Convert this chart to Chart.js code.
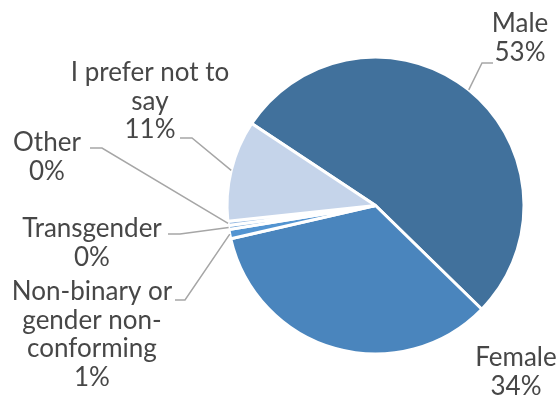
<!DOCTYPE html>
<html>
<head>
<meta charset="utf-8">
<script src="https://cdn.jsdelivr.net/npm/chart.js@4.4.1/dist/chart.umd.min.js"></script>
<style>
  html, body { margin: 0; padding: 0; background: #fff; }
  #wrap { width: 560px; height: 399px; }
</style>
</head>
<body>
<div id="wrap"><canvas id="genderPie" width="560" height="399"></canvas></div>
<script>
var categories = [
  'Male',
  'Female',
  ['Non-binary or', 'gender non-', 'conforming'],
  'Transgender',
  'Other',
  ['I prefer not to', 'say']
];
var shares = [53.0, 34.1, 1.0, 0.45, 0.45, 11.0];
var sliceColors = ['#41719c', '#4a85bd', '#5394d1', '#6fa3d8', '#9bbce3', '#c5d4ea'];

// label blocks: centre x, first baseline, leader start + elbow (null = no leader)
var labelSpots = [
  { x: 520, y: 32,  leader: [[493, 63], [482, 63]] },
  { x: 516, y: 366, leader: null },
  { x: 92,  y: 300, leader: [[175, 300], [185, 300]] },
  { x: 92,  y: 237, leader: [[168, 234], [180, 234]] },
  { x: 47,  y: 151, leader: [[90, 148], [102, 148]] },
  { x: 150, y: 81,  leader: [[180, 138], [192, 138]] }
];

var total = shares.reduce(function(a, b) { return a + b; }, 0);

var pieLabels = {
  id: 'pieLabels',
  afterDatasetsDraw: function(chart) {
    var ctx = chart.ctx;
    var arcs = chart.getDatasetMeta(0).data;
    ctx.save();

    // leader lines
    ctx.strokeStyle = '#a6a6a6';
    ctx.lineWidth = 1.5;
    arcs.forEach(function(arc, i) {
      var spot = labelSpots[i];
      if (!spot.leader) return;
      var p = arc.getProps(['x', 'y', 'startAngle', 'endAngle', 'outerRadius'], true);
      var mid = (p.startAngle + p.endAngle) / 2;
      var ex = p.x + Math.cos(mid) * p.outerRadius;
      var ey = p.y + Math.sin(mid) * p.outerRadius;
      ctx.beginPath();
      ctx.moveTo(spot.leader[0][0], spot.leader[0][1]);
      ctx.lineTo(spot.leader[1][0], spot.leader[1][1]);
      ctx.lineTo(ex, ey);
      ctx.stroke();
    });

    // category + percentage text
    ctx.fillStyle = '#474747';
    ctx.font = '26px Lato, "Open Sans", sans-serif';
    ctx.textAlign = 'center';
    ctx.textBaseline = 'alphabetic';
    categories.forEach(function(cat, i) {
      var lines = Array.isArray(cat) ? cat.slice() : [cat];
      lines.push(Math.round(shares[i] / total * 100) + '%');
      lines.forEach(function(txt, k) {
        ctx.fillText(txt, labelSpots[i].x, labelSpots[i].y + k * 28.5);
      });
    });
    ctx.restore();
  }
};

new Chart(document.getElementById('genderPie'), {
  type: 'pie',
  data: {
    labels: categories,
    datasets: [{
      data: shares,
      backgroundColor: sliceColors,
      borderColor: '#ffffff',
      borderWidth: 3
    }]
  },
  options: {
    responsive: false,
    animation: false,
    rotation: 303.5,
    radius: 148.5,
    layout: { padding: { left: 227, right: 36, top: 57, bottom: 45 } },
    plugins: {
      legend: { display: false },
      tooltip: { enabled: false }
    }
  },
  plugins: [pieLabels]
});
</script>
</body>
</html>
